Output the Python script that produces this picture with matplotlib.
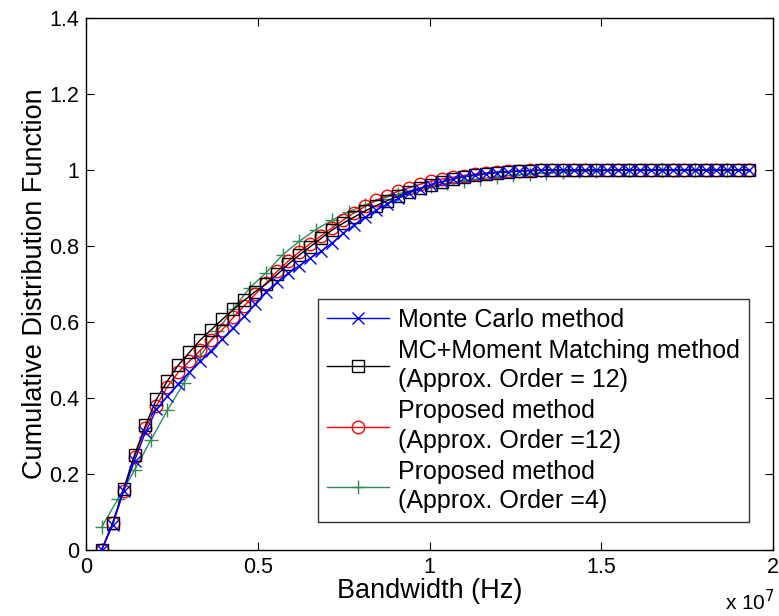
import matplotlib
matplotlib.use('Agg')
import matplotlib.pyplot as plt
from matplotlib.ticker import FuncFormatter

# bandwidth samples (x 10^7 Hz)
bw = [0.044, 0.076, 0.108, 0.140, 0.172, 0.204, 0.236, 0.268, 0.300, 0.332,
      0.364, 0.396, 0.428, 0.460, 0.492, 0.524, 0.556, 0.588, 0.620, 0.652,
      0.684, 0.716, 0.748, 0.780, 0.812, 0.844, 0.876, 0.908, 0.940, 0.972,
      1.004, 1.036, 1.068, 1.100, 1.132, 1.164, 1.196, 1.228, 1.260, 1.292,
      1.324, 1.356, 1.388, 1.420, 1.452, 1.484, 1.516, 1.548, 1.580, 1.612,
      1.644, 1.676, 1.708, 1.740, 1.772, 1.804, 1.836, 1.868, 1.900, 1.932]

cdf_mc = [0.0, 0.065, 0.155, 0.235, 0.31, 0.37, 0.405, 0.438, 0.468, 0.497,
          0.525, 0.555, 0.585, 0.615, 0.648, 0.68, 0.705, 0.728, 0.748, 0.768,
          0.786, 0.808, 0.833, 0.855, 0.875, 0.894, 0.91, 0.925, 0.939, 0.951,
          0.961, 0.969, 0.976, 0.982, 0.986, 0.99, 0.993, 0.995, 0.997, 0.998,
          0.999, 1.0, 1.0, 1.0, 1.0, 1.0, 1.0, 1.0, 1.0, 1.0,
          1.0, 1.0, 1.0, 1.0, 1.0, 1.0, 1.0, 1.0, 1.0, 1.0]

cdf_mm = [0.0, 0.07, 0.16, 0.25, 0.328, 0.397, 0.445, 0.487, 0.52, 0.553,
          0.58, 0.607, 0.633, 0.657, 0.68, 0.70, 0.725, 0.752, 0.776, 0.798,
          0.82, 0.842, 0.86, 0.876, 0.892, 0.906, 0.919, 0.931, 0.942, 0.952,
          0.961, 0.969, 0.976, 0.982, 0.986, 0.99, 0.993, 0.995, 0.997, 0.998,
          0.999, 1.0, 1.0, 1.0, 1.0, 1.0, 1.0, 1.0, 1.0, 1.0,
          1.0, 1.0, 1.0, 1.0, 1.0, 1.0, 1.0, 1.0, 1.0, 1.0]

cdf_p12 = [0.0, 0.07, 0.155, 0.245, 0.32, 0.38, 0.43, 0.468, 0.497, 0.526,
           0.553, 0.58, 0.612, 0.643, 0.673, 0.703, 0.733, 0.76, 0.784, 0.806,
           0.827, 0.848, 0.868, 0.887, 0.904, 0.92, 0.932, 0.944, 0.953, 0.962,
           0.97, 0.976, 0.981, 0.985, 0.989, 0.992, 0.994, 0.996, 0.998, 0.999,
           1.0, 1.0, 1.0, 1.0, 1.0, 1.0, 1.0, 1.0, 1.0, 1.0,
           1.0, 1.0, 1.0, 1.0, 1.0, 1.0, 1.0, 1.0, 1.0, 1.0]

# order 4 curve is sampled on a coarser grid
bw4 = [0.044, 0.092, 0.140, 0.188, 0.236, 0.284, 0.332, 0.380, 0.428, 0.476,
       0.524, 0.572, 0.620, 0.668, 0.716, 0.764, 0.812, 0.860, 0.908, 0.956,
       1.004, 1.052, 1.100, 1.148, 1.196, 1.244, 1.292, 1.340, 1.388, 1.436,
       1.484, 1.532, 1.580, 1.628, 1.676, 1.724, 1.772, 1.820, 1.868, 1.916]

cdf_p4 = [0.06, 0.135, 0.21, 0.29, 0.368, 0.44, 0.51, 0.575, 0.635, 0.69,
          0.73, 0.777, 0.812, 0.843, 0.868, 0.89, 0.908, 0.924, 0.937, 0.948,
          0.957, 0.965, 0.972, 0.977, 0.982, 0.986, 0.99, 0.993, 0.995, 0.997,
          0.998, 0.999, 1.0, 1.0, 1.0, 1.0, 1.0, 1.0, 1.0, 1.0]

labels = ['Monte Carlo method',
          'MC+Moment Matching method\n(Approx. Order = 12)',
          'Proposed method\n(Approx. Order =12)',
          'Proposed method\n(Approx. Order =4)']

plt.rcParams['font.family'] = ['Liberation Sans', 'DejaVu Sans']

fig = plt.figure(figsize=(7.79, 6.16), dpi=100)
ax = fig.add_axes([0.111, 0.107, 0.881, 0.864])

x_hz = [v * 1e7 for v in bw]
x4_hz = [v * 1e7 for v in bw4]

ax.plot(x_hz, cdf_mc, color='#0000ff', marker='x', ms=8, mew=1, lw=1,
        label=labels[0], zorder=5)
ax.plot(x_hz, cdf_mm, color='black', marker='s', ms=8, mfc='none', mew=1,
        lw=1, label=labels[1], zorder=4)
ax.plot(x_hz, cdf_p12, color='#ff0000', marker='o', ms=9, mfc='none', mew=1,
        lw=1, label=labels[2], zorder=3)
ax.plot(x4_hz, cdf_p4, color='#2e8b57', marker='+', ms=10, mew=1, lw=1,
        label=labels[3], zorder=2)

ax.set_xlim(0, 2e7)
ax.set_ylim(0, 1.4)
ax.set_xticks([0, 0.5e7, 1e7, 1.5e7, 2e7])
ax.set_yticks([0, 0.2, 0.4, 0.6, 0.8, 1.0, 1.2, 1.4])
ax.xaxis.set_major_formatter(FuncFormatter(lambda v, p: '%g' % (v / 1e7)))
ax.yaxis.set_major_formatter(FuncFormatter(lambda v, p: '%g' % round(v, 1)))
ax.tick_params(direction='in', top=True, right=True, length=6, labelsize=15.5)
ax.tick_params(axis='x', pad=5)
ax.tick_params(axis='y', pad=5)
for s in ax.spines.values():
    s.set_linewidth(1)

ax.set_xlabel('Bandwidth (Hz)', fontsize=19.5, labelpad=0)
ax.set_ylabel('Cumulative Distribution Function', fontsize=19.5, labelpad=1)
fig.text(0.931, 0.01, r'x 10$^{7}$', fontsize=15)

leg = ax.legend(loc='lower right', bbox_to_anchor=(0.965, 0.053),
                borderaxespad=0, fontsize=18, frameon=True, fancybox=False,
                edgecolor='black', handlelength=2.5, labelspacing=0.28,
                handletextpad=0.35, borderpad=0.35)
leg.get_frame().set_linewidth(1)
for t in leg.get_texts():
    t.set_linespacing(1.29)

fig.savefig('out.png', dpi=100)
